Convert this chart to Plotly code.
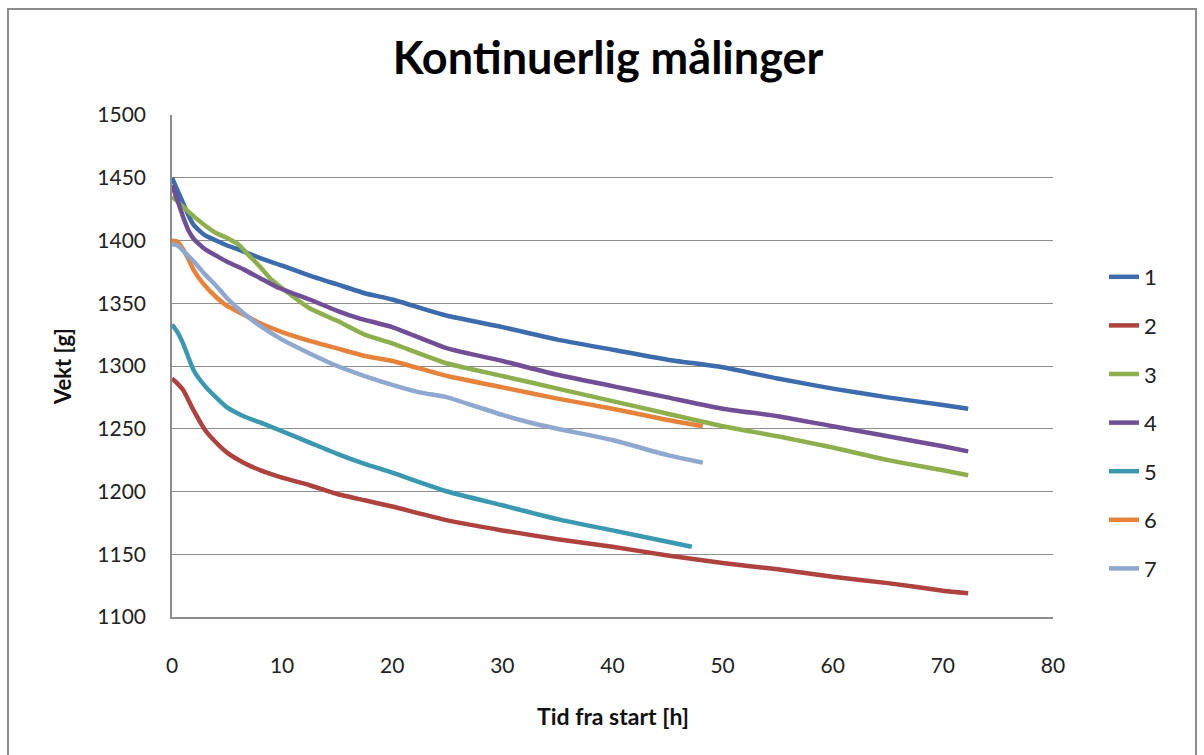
import plotly.graph_objects as go

# ---- data ----
t1 = [0, 0.5, 1, 1.5, 2, 3, 4, 5, 6, 8, 10, 12.5, 15, 17.5, 20, 25, 30, 35, 40, 45, 50, 55, 60, 65, 70, 72.3]
v1 = [1450, 1440, 1430, 1420, 1412, 1404, 1400, 1396, 1393, 1386, 1380, 1372, 1365, 1358, 1353, 1340, 1331, 1321, 1313, 1305, 1299, 1290, 1282, 1275, 1269, 1266]

t2 = [0, 0.5, 1, 2, 3, 4, 5, 6.5, 8, 10, 12.5, 15, 17.5, 20, 25, 30, 35, 40, 45, 50, 55, 60, 65, 70, 72.3]
v2 = [1290, 1286, 1281, 1264, 1249, 1239, 1231, 1223, 1217, 1211, 1205, 1198, 1193, 1188, 1177, 1169, 1162, 1156, 1149, 1143, 1138, 1132, 1127, 1121, 1119]

t3 = [0, 1, 2, 3, 4, 5, 6, 7, 8, 9, 10, 12.5, 15, 17.5, 20, 25, 30, 35, 40, 45, 50, 55, 60, 65, 70, 72.3]
v3 = [1435, 1427, 1419, 1412, 1406, 1402, 1397, 1388, 1379, 1369, 1362, 1346, 1336, 1325, 1318, 1302, 1292, 1282, 1272, 1262, 1252, 1244, 1235, 1225, 1217, 1213]

t4 = [0, 0.5, 1, 1.5, 2, 3, 4, 5, 6.5, 8, 9.5, 12.5, 15, 17, 20, 25, 30, 35, 40, 45, 50, 55, 60, 65, 70, 72.3]
v4 = [1444, 1432, 1419, 1408, 1401, 1393, 1388, 1383, 1377, 1370, 1363, 1353, 1344, 1338, 1331, 1314, 1304, 1293, 1284, 1275, 1266, 1260, 1252, 1244, 1236, 1232]

t5 = [0, 0.5, 1, 2, 3, 4, 5, 6.5, 8, 10, 12.5, 15, 17.5, 20, 25, 30, 35, 40, 45, 47.2]
v5 = [1333, 1327, 1318, 1296, 1284, 1275, 1267, 1260, 1255, 1248, 1239, 1230, 1222, 1215, 1200, 1189, 1178, 1169, 1160, 1156]

t6 = [0, 0.5, 1, 1.5, 2, 2.8, 4, 5, 6.5, 8, 10, 12.5, 15, 17.5, 20, 25, 30, 35, 40, 45, 48.2]
v6 = [1400, 1399, 1393, 1385, 1376, 1366, 1355, 1348, 1341, 1334, 1327, 1320, 1314, 1308, 1304, 1292, 1283, 1274, 1266, 1257, 1252]

t7 = [0, 0.5, 1, 2, 3, 4, 5, 6.5, 8, 10, 12.5, 15, 17.5, 20, 22.5, 25, 27.5, 30, 32.5, 35, 40, 45, 48.2]
v7 = [1397, 1396, 1392, 1383, 1373, 1364, 1354, 1342, 1332, 1321, 1310, 1300, 1292, 1285, 1279, 1275, 1268, 1261, 1255, 1250, 1241, 1229, 1223]

names = ["1", "2", "3", "4", "5", "6", "7"]
times = [t1, t2, t3, t4, t5, t6, t7]
values = [v1, v2, v3, v4, v5, v6, v7]
colors = ["#3C6CAD", "#AE423F", "#8DAF4D", "#704F96", "#3A98B0", "#E6823A", "#8FA8D0"]

x_ticks = [0, 10, 20, 30, 40, 50, 60, 70, 80]
y_ticks = [1100, 1150, 1200, 1250, 1300, 1350, 1400, 1450, 1500]

FONT = "Lato"

fig = go.Figure()
for n, t, v, c in zip(names, times, values, colors):
    fig.add_trace(go.Scatter(
        x=t, y=v, name=n, mode="lines", legendgroup=n,
        line=dict(color=c, width=4.5, shape="spline", smoothing=0.5),
    ))

L, R, T, B = 172, 151, 115, 138
W, H = 1204, 755
pw, ph = W - L - R, H - T - B

fig.update_layout(
    width=W, height=H,
    margin=dict(l=L, r=R, t=T, b=B),
    paper_bgcolor="white", plot_bgcolor="white",
    font=dict(family=FONT, color="#222222", size=21),
    title=dict(text="<b>Kontinuerlig målinger</b>", x=(608) / W, xanchor="center",
               y=1 - 58 / H, yanchor="middle",
               font=dict(family=FONT, size=45, color="black")),
    showlegend=True,
    legend=dict(x=(1104 - L) / pw, xanchor="left", y=(617 - 423) / ph, yanchor="middle",
                font=dict(family=FONT, size=22, color="#222222"),
                tracegroupgap=17, bgcolor="rgba(0,0,0,0)"),
    xaxis=dict(range=[0, 80], tickvals=x_ticks, showgrid=False, zeroline=False,
               showline=True, linecolor="#8C8C8C", linewidth=1.5,
               ticks="outside", ticklen=29, tickcolor="rgba(0,0,0,0)",
               tickfont=dict(family=FONT, size=21, color="#222222")),
    yaxis=dict(range=[1100, 1500], tickvals=y_ticks, showgrid=True, gridcolor="#8E8E8E",
               gridwidth=1.2, zeroline=False,
               showline=True, linecolor="#8C8C8C", linewidth=1.5,
               ticks="outside", ticklen=20, tickcolor="rgba(0,0,0,0)",
               tickfont=dict(family=FONT, size=21, color="#222222")),
    annotations=[
        dict(text="<b>Tid fra start [h]</b>", xref="paper", yref="paper",
             x=(613 - L) / pw, y=(617 - 716) / ph, xanchor="center", yanchor="middle",
             showarrow=False, font=dict(family=FONT, size=23, color="#111111")),
        dict(text="<b>Vekt [g]</b>", xref="paper", yref="paper", textangle=-90,
             x=(62 - L) / pw, y=(617 - 367) / ph, xanchor="center", yanchor="middle",
             showarrow=False, font=dict(family=FONT, size=22, color="#111111")),
    ],
    shapes=[
        dict(type="rect", xref="paper", yref="paper",
             x0=(8 - L) / pw, x1=(1196 - L) / pw, y0=(617 - 770) / ph, y1=(617 - 9) / ph,
             line=dict(color="#8C8C8C", width=2), fillcolor="rgba(0,0,0,0)", layer="below"),
    ],
)

fig.write_html("out.html")
